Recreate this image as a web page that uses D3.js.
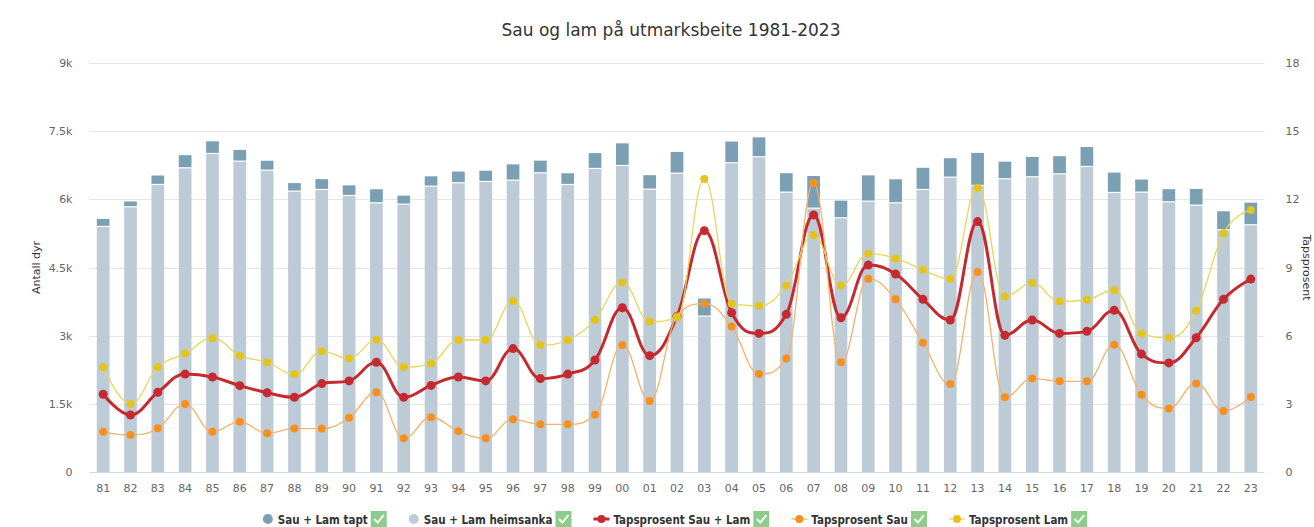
<!DOCTYPE html>
<html><head><meta charset="utf-8">
<script src="https://cdn.jsdelivr.net/npm/d3@7"></script>
<style>body{margin:0;background:#fff;} svg{display:block;font-family:"DejaVu Sans",Verdana,sans-serif;}</style>
</head><body><svg id="c" width="1314" height="527"></svg>
<script>
const years = ['81','82','83','84','85','86','87','88','89','90','91','92','93','94','95','96','97','98','99','00','01','02','03','04','05','06','07','08','09','10','11','12','13','14','15','16','17','18','19','20','21','22','23'];
const heimsanka = [5390,5823,6314,6681,6996,6827,6629,6167,6204,6072,5911,5881,6277,6351,6380,6409,6571,6314,6666,6732,6211,6563,3417,6791,6923,6145,5793,5581,5947,5911,6204,6475,6292,6439,6483,6549,6710,6138,6145,5933,5859,5317,5427];
const tapt = [180,130,210,290,280,260,220,190,240,235,310,200,230,260,250,360,280,260,350,500,320,480,400,480,440,430,720,390,580,530,490,430,730,390,450,400,440,450,290,290,370,420,500];
const pctTotal = [3.42,2.51,3.51,4.31,4.18,3.80,3.49,3.29,3.89,4.01,4.83,3.29,3.81,4.18,4.01,5.43,4.11,4.31,4.93,7.23,5.12,6.85,10.62,7.01,6.10,6.94,11.31,6.79,9.11,8.71,7.60,6.69,11.02,6.02,6.69,6.10,6.19,7.12,5.19,4.80,5.91,7.60,8.49];
const pctSau = [1.77,1.63,1.92,2.99,1.77,2.21,1.70,1.91,1.91,2.39,3.51,1.48,2.41,1.79,1.48,2.32,2.10,2.10,2.52,5.59,3.12,6.85,7.41,6.40,4.31,5.00,12.72,4.83,8.51,7.60,5.69,3.87,8.80,3.29,4.11,3.99,3.99,5.60,3.40,2.80,3.90,2.68,3.30];
const pctLam = [4.61,2.99,4.62,5.21,5.90,5.12,4.83,4.30,5.31,5.00,5.82,4.62,4.78,5.81,5.81,7.53,5.59,5.81,6.70,8.35,6.62,6.79,12.9,7.41,7.32,8.20,10.43,8.20,9.61,9.40,8.90,8.49,12.51,7.72,8.33,7.50,7.58,8.01,6.10,5.91,7.10,10.51,11.53];
const leftTicks = [0,1500,3000,4500,6000,7500,9000];
const leftTickLabels = ['0','1.5k','3k','4.5k','6k','7.5k','9k'];
const rightTicks = [0,3,6,9,12,15,18];
const title = 'Sau og lam på utmarksbeite 1981-2023';
const legendNames = ['Sau + Lam tapt','Sau + Lam heimsanka','Tapsprosent Sau + Lam','Tapsprosent Sau','Tapsprosent Lam'];

const C = {tapt:'#7b9fb3', heim:'#bccbd6', red:'#c42a2f', orange:'#f7901e', orangeLine:'#f5b26a', yellow:'#e3c31c', yellowLine:'#e9d65a'};

const svg = d3.select('#c');
const L = 89.5, R = 1264.5, T = 63, B = 472;
const x = d3.scaleBand().domain(years).range([L,R]).paddingInner(0.535).paddingOuter(0.2675);
const yL = d3.scaleLinear().domain([0,9000]).range([B,T]);
const yR = d3.scaleLinear().domain([0,18]).range([B,T]);

// title
svg.append('text').attr('x',671).attr('y',36).attr('text-anchor','middle')
  .style('font-size','17px').style('fill','#333').text(title);

// grid
svg.append('g').selectAll('line').data(leftTicks.slice(1)).join('line')
  .attr('x1',L).attr('x2',R).attr('y1',d=>Math.round(yL(d))+0.5).attr('y2',d=>Math.round(yL(d))+0.5)
  .attr('stroke','#e6e6e6').attr('stroke-width',1);

// left axis labels
const gl = svg.append('g').attr('transform',`translate(${L-14},0)`)
  .call(d3.axisLeft(yL).tickValues(leftTicks).tickFormat((d,i)=>leftTickLabels[i]).tickSize(0));
gl.select('.domain').remove();
gl.selectAll('text').style('font-size','11px').style('fill','#666').style('font-family','"DejaVu Sans",sans-serif');

const gr = svg.append('g').attr('transform',`translate(${R+18},0)`)
  .call(d3.axisRight(yR).tickValues(rightTicks).tickSize(0));
gr.select('.domain').remove();
gr.selectAll('text').style('font-size','11px').style('fill','#666').style('font-family','"DejaVu Sans",sans-serif');

svg.append('text').attr('transform',`translate(40,${(T+B)/2}) rotate(-90)`).attr('text-anchor','middle')
  .style('font-size','11px').style('fill','#333').text('Antall dyr');
svg.append('text').attr('transform',`translate(1303,${(T+B)/2}) rotate(90)`).attr('text-anchor','middle')
  .style('font-size','11px').style('fill','#333').text('Tapsprosent');

// bars
const bw = x.bandwidth();
const bars = svg.append('g');
bars.selectAll('rect.h').data(years).join('rect').attr('class','h')
  .attr('x',d=>x(d)).attr('width',bw)
  .attr('y',(d,i)=>yL(heimsanka[i])).attr('height',(d,i)=>B-yL(heimsanka[i]))
  .attr('fill',C.heim);
bars.selectAll('rect.t').data(years).join('rect').attr('class','t')
  .attr('x',d=>x(d)).attr('width',bw)
  .attr('y',(d,i)=>yL(heimsanka[i]+tapt[i])).attr('height',(d,i)=>yL(heimsanka[i])-yL(heimsanka[i]+tapt[i])-1.2)
  .attr('fill',C.tapt);

// x axis
svg.append('line').attr('x1',L).attr('x2',R).attr('y1',B+0.5).attr('y2',B+0.5).attr('stroke','#ccd6eb');
svg.append('g').selectAll('text').data(years).join('text')
  .attr('x',d=>x(d)+bw/2).attr('y',492).attr('text-anchor','middle')
  .style('font-size','11px').style('fill','#666').text(d=>d);

// Highcharts-like spline
function spline(pts){
  const sm=1.5, den=2.5;
  const cp = pts.map((p,i)=>{
    const prev=pts[i-1], next=pts[i+1];
    if(!prev||!next) return {lx:p[0],ly:p[1],rx:p[0],ry:p[1]};
    let lx=(sm*p[0]+prev[0])/den, ly=(sm*p[1]+prev[1])/den;
    let rx=(sm*p[0]+next[0])/den, ry=(sm*p[1]+next[1])/den;
    if(rx!==lx){
      const corr=((ry-ly)*(rx-p[0]))/(rx-lx)+p[1]-ry;
      ly+=corr; ry+=corr;
    }
    if(ly>prev[1]&&ly>p[1]){ly=Math.max(prev[1],p[1]); ry=2*p[1]-ly;}
    else if(ly<prev[1]&&ly<p[1]){ly=Math.min(prev[1],p[1]); ry=2*p[1]-ly;}
    if(ry>next[1]&&ry>p[1]){ry=Math.max(next[1],p[1]); ly=2*p[1]-ry;}
    else if(ry<next[1]&&ry<p[1]){ry=Math.min(next[1],p[1]); ly=2*p[1]-ry;}
    return {lx,ly,rx,ry};
  });
  let d=`M${pts[0][0]},${pts[0][1]}`;
  for(let i=1;i<pts.length;i++){
    d+=`C${cp[i-1].rx},${cp[i-1].ry},${cp[i].lx},${cp[i].ly},${pts[i][0]},${pts[i][1]}`;
  }
  return d;
}

function series(vals, lineColor, markColor, lw, r){
  const pts = vals.map((v,i)=>[x(years[i])+bw/2, yR(v)]);
  const g = svg.append('g');
  g.append('path').attr('d',spline(pts)).attr('fill','none').attr('stroke',lineColor).attr('stroke-width',lw).attr('stroke-linejoin','round');
  g.selectAll('circle').data(pts).join('circle').attr('cx',d=>d[0]).attr('cy',d=>d[1]).attr('r',r).attr('fill',markColor);
}
series(pctTotal, C.red, C.red, 3, 4.5);
series(pctSau, C.orangeLine, C.orange, 1.3, 4);
series(pctLam, C.yellowLine, C.yellow, 1.3, 4);

// legend
const lg = svg.append('g');
const items = [
  {n:legendNames[0], type:'bar', c:C.tapt},
  {n:legendNames[1], type:'bar', c:C.heim},
  {n:legendNames[2], type:'line', c:C.red, lc:C.red, lw:3},
  {n:legendNames[3], type:'line', c:C.orange, lc:C.orangeLine, lw:1.3},
  {n:legendNames[4], type:'line', c:C.yellow, lc:C.yellowLine, lw:1.3}
];
const ly = 519;
const gap = 22;
let cx = 0;
items.forEach(it=>{
  const g = lg.append('g');
  let sx = cx;
  if(it.type==='bar'){
    g.append('circle').attr('cx',sx+5).attr('cy',ly).attr('r',5).attr('fill',it.c);
    sx += 15;
  } else {
    g.append('line').attr('x1',sx).attr('x2',sx+16).attr('y1',ly).attr('y2',ly).attr('stroke',it.lc).attr('stroke-width',it.lw);
    g.append('circle').attr('cx',sx+8).attr('cy',ly).attr('r',4).attr('fill',it.c);
    sx += 20;
  }
  const t = g.append('text').attr('x',sx).attr('y',ly+4.5)
    .style('font-family','"DejaVu Sans Condensed","DejaVu Sans",sans-serif')
    .style('font-size','11.5px').style('font-weight','bold').style('fill','#333').text(it.n);
  const tw = t.node().getComputedTextLength();
  sx += tw + 3;
  g.append('rect').attr('x',sx).attr('y',ly-8).attr('width',16).attr('height',16).attr('fill','#8ccc8c');
  g.append('path').attr('d',`M${sx+3.5},${ly} L${sx+7},${ly+3.5} L${sx+13},${ly-4}`).attr('fill','none').attr('stroke','#fff').attr('stroke-width',2);
  sx += 16;
  cx = sx + gap;
});
const totalW = cx - gap;
lg.attr('transform',`translate(${675 - totalW/2},0)`);
</script></body></html>
